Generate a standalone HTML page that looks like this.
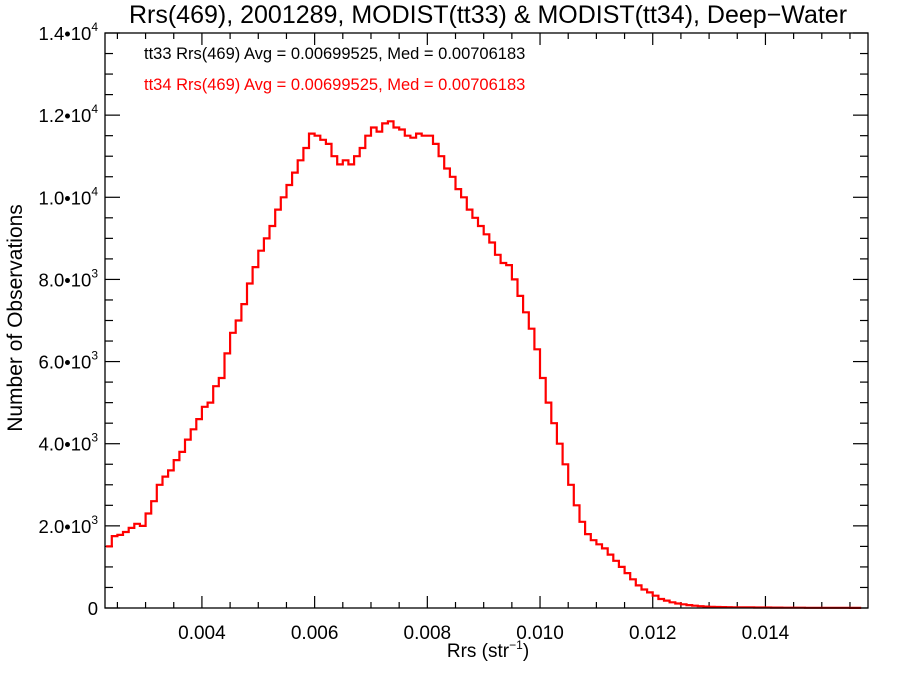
<!DOCTYPE html>
<html><head><meta charset="utf-8"><style>
body{margin:0;background:#fff;}
svg{display:block;font-family:"Liberation Sans",Arial,sans-serif;}
</style></head><body>
<svg id="chart" width="900" height="675" viewBox="0 0 900 675" xmlns="http://www.w3.org/2000/svg">
<rect width="900" height="675" fill="#fff"/>
<text x="488" y="23" font-size="25" text-anchor="middle" fill="#000">Rrs(469), 2001289, MODIST(tt33) &amp; MODIST(tt34), Deep−Water</text>
<text x="144" y="59" font-size="16.5" fill="#000">tt33 Rrs(469) Avg = 0.00699525, Med = 0.00706183</text>
<text x="144" y="90" font-size="16.5" fill="#ff0000">tt34 Rrs(469) Avg = 0.00699525, Med = 0.00706183</text>
<text transform="translate(22,318) rotate(-90)" font-size="21" text-anchor="middle">Number of Observations</text>
<text x="488" y="657" font-size="19" text-anchor="middle">Rrs (str<tspan font-size="12" dy="-8">−1</tspan><tspan dy="8">)</tspan></text>
<g id="axes"></g>
<path id="series" fill="none" stroke="#ff0000" stroke-width="2.2"/>
<rect x="105" y="33" width="763" height="575" fill="none" stroke="#000" stroke-width="1.3"/>
</svg>
<script>
const binStart = 0.0023;
const binWidth = 0.0001;
const counts = [1500,1750,1780,1850,1950,2050,2000,2300,2600,3000,3200,3350,3600,3800,4100,4350,4600,4900,5000,5400,5600,6200,6700,7000,7400,7900,8300,8700,9000,9300,9700,10000,10300,10600,10900,11200,11550,11500,11400,11300,11000,10800,10900,10800,11000,11200,11500,11700,11600,11800,11850,11700,11650,11500,11450,11550,11500,11500,11300,11000,10700,10500,10200,10000,9700,9500,9300,9100,8900,8600,8400,8350,8000,7600,7200,6800,6300,5600,5000,4500,4000,3500,3000,2500,2100,1800,1650,1550,1450,1300,1150,1000,850,700,550,450,380,300,220,180,140,110,90,70,55,45,35,30,25,22,20,18,16,15,14,13,12,11,10,9,8,8,7,7,6,6,5,5,5,4,4,4,3,3];
const xTicks = [0.004,0.006,0.008,0.010,0.012,0.014];
const xTickLabels = ["0.004","0.006","0.008","0.010","0.012","0.014"];
const yTicks = [0,2000,4000,6000,8000,10000,12000,14000];
const yTickMant = ["0","2.0","4.0","6.0","8.0","1.0","1.2","1.4"];
const yTickExp = ["","3","3","3","3","4","4","4"];

const L=105,R=868,T=33,B=608,X0=0.00228,X1=0.01582,Y0=0,Y1=14000;
const xs=v=>L+(v-X0)/(X1-X0)*(R-L);
const ys=v=>B-(v-Y0)/(Y1-Y0)*(B-T);
const NS="http://www.w3.org/2000/svg";
const axes=document.getElementById('axes');
function line(x1,y1,x2,y2,name){const l=document.createElementNS(NS,'line');
l.setAttribute('x1',x1);l.setAttribute('y1',y1);l.setAttribute('x2',x2);l.setAttribute('y2',y2);
l.setAttribute('stroke','#000');l.setAttribute('stroke-width','1.2');


axes.appendChild(l);}
for(let v=0.0025; v<X1; v+=0.0005){const x=xs(v);const major=Math.abs(v*1000-Math.round(v*500)*2)<1e-6;
 const len=major?12:6;line(x,B,x,B-len,'x-tick');line(x,T,x,T+len,'x-tick-top');}
for(let v=0; v<=Y1; v+=500){const y=ys(v);const major=v%2000===0;const len=major?15:8;
 line(L,y,L+len,y,'y-tick');line(R,y,R-len,y,'y-tick-right');}
xTicks.forEach((v,i)=>{const t=document.createElementNS(NS,'text');
 t.setAttribute('x',xs(v));t.setAttribute('y',639);t.setAttribute('font-size','19');t.setAttribute('text-anchor','middle');
 t.textContent=xTickLabels[i];
 
 
 axes.appendChild(t);});
yTicks.forEach((v,i)=>{const t=document.createElementNS(NS,'text');
 t.setAttribute('x',98);t.setAttribute('y',ys(v)+7);t.setAttribute('font-size','18.5');t.setAttribute('text-anchor','end');
 if(yTickExp[i]){t.innerHTML=yTickMant[i]+'•10<tspan font-size="12" dy="-9">'+yTickExp[i]+'</tspan>';}
 else t.textContent=yTickMant[i];
 
 
 axes.appendChild(t);});
let d='';
counts.forEach((c,i)=>{let a=binStart+i*binWidth,b=a+binWidth;
 const xa=Math.max(L,xs(a)),xb=Math.min(R,xs(b));if(xa>=R)return;
 const y=ys(c);d+=(d?'L':'M')+xa.toFixed(1)+','+y.toFixed(1)+'L'+xb.toFixed(1)+','+y.toFixed(1);});
document.getElementById('series').setAttribute('d',d);
</script>
</body></html>
